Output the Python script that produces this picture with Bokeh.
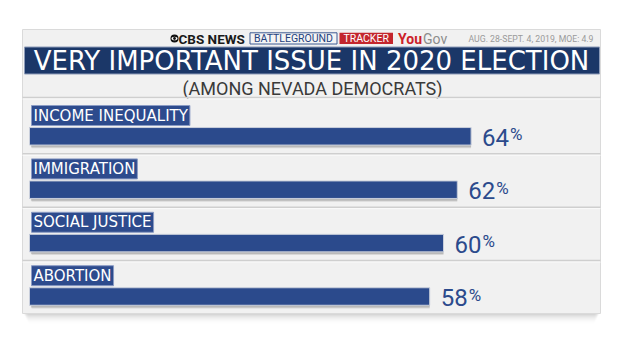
from bokeh.plotting import figure
from bokeh.models import Range1d
from bokeh.embed import file_html
from bokeh.resources import INLINE
from bokeh.core.properties import value

# ---- data ----
issues = ["INCOME INEQUALITY", "IMMIGRATION", "SOCIAL JUSTICE", "ABORTION"]
pcts = [64, 62, 60, 58]
title = "VERY IMPORTANT ISSUE IN 2020 ELECTION"
subtitle = "(AMONG NEVADA DEMOCRATS)"
source_note = "AUG. 28-SEPT. 4, 2019, MOE: 4.9"
brand = "CBS NEWS"
tag1 = "BATTLEGROUND"
tag2 = "TRACKER"

# ---- layout ----
W, H = 620, 349
PX_PER_PCT = 6.9
BAR_X0 = 29
NAVY = "#2b4a8c"

p = figure(width=W, height=H, output_backend="svg", toolbar_location=None,
           x_range=Range1d(-BAR_X0 / PX_PER_PCT, (W - BAR_X0) / PX_PER_PCT),
           y_range=Range1d(H, 0), min_border=0,
           x_axis_location=None, y_axis_location=None,
           background_fill_color="white", border_fill_color="white",
           outline_line_color=None)
p.grid.visible = False
p.extra_x_ranges = {"px": Range1d(0, W)}
PX = dict(x_range_name="px")

# panel shadow
for i, a in enumerate([0.06, 0.045, 0.03, 0.018, 0.008]):
    p.quad(left=24 + i, right=598 - i, top=313, bottom=315 + 2 * i,
           fill_color="black", fill_alpha=a, line_color=None, **PX)
# panel
p.quad(left=22, right=600, top=29, bottom=313, fill_color="#f1f1f1",
       line_color="#dadada", line_width=1, **PX)

# header
p.scatter(x=[174], y=[38], size=8, marker="circle", fill_color="#111111",
          line_color=None, **PX)
p.ellipse(x=[174], y=[38], width=6, height=3.6, fill_color="white",
          line_color=None, **PX)
p.scatter(x=[174], y=[38], size=2.8, marker="circle", fill_color="#111111",
          line_color=None, **PX)
p.text(x=[178], y=[38.5], text=[brand], text_font=value("Roboto"),
       text_font_style="bold", text_font_size="13.5px", text_color="#1a1a1a",
       text_baseline="middle", text_align="left", **PX)
p.quad(left=249.5, right=336.5, top=32.3, bottom=43.5, fill_color="#f4f4f4",
       line_color="#3d5a92", line_width=1, **PX)
p.text(x=[293], y=[38.3], text=[tag1], text_font=value("Roboto"),
       text_font_size="10.5px", text_color="#24427f", text_baseline="middle",
       text_align="center", **PX)
p.quad(left=339, right=392.5, top=32.3, bottom=43.5, fill_color="#c3262d",
       line_color=None, **PX)
p.text(x=[365.7], y=[38.3], text=[tag2], text_font=value("Roboto"),
       text_font_size="10.5px", text_color="white", text_baseline="middle",
       text_align="center", **PX)
p.text(x=[397.5], y=[38.5], text=["You"], text_font=value("Roboto"),
       text_font_style="bold", text_font_size="14px", text_color="#cc2129",
       text_baseline="middle", text_align="left", **PX)
p.text(x=[422.5], y=[38.5], text=["Gov"], text_font=value("Roboto"),
       text_font_size="14px", text_color="#8c8c8c",
       text_baseline="middle", text_align="left", **PX)
p.text(x=[593], y=[38.5], text=[source_note],
       text_font=value("Roboto"), text_font_size="8.7px",
       text_color="#9a9a9a", text_baseline="middle", text_align="right", **PX)

# title banner
p.quad(left=24, right=599, top=46.5, bottom=73.5, fill_color="#1b3768",
       line_color="#8d9bb8", line_width=1, **PX)
p.text(x=[311], y=[60.5], text=[title], text_font=value("DejaVu Sans"),
       text_font_size="26px", text_color="white", text_baseline="middle",
       text_align="center", **PX)
p.text(x=[312], y=[87.5], text=[subtitle], text_font=value("Roboto"),
       text_font_size="18px", text_color="#3a3a3a", text_baseline="middle",
       text_align="center", **PX)

# separators
ROW0, PITCH = 115.0, 53.4
sep_y = [97.0] + [153.3 + PITCH * i for i in range(len(issues) - 1)]
p.segment(x0=[22] * len(sep_y), x1=[600] * len(sep_y), y0=sep_y, y1=sep_y,
          line_color="#cfcfcf", line_width=1.5, **PX)
p.segment(x0=[22] * len(sep_y), x1=[600] * len(sep_y),
          y0=[y + 1.5 for y in sep_y], y1=[y + 1.5 for y in sep_y],
          line_color="#fafafa", line_width=1, **PX)

label_y = [ROW0 + PITCH * i for i in range(len(issues))]
bar_y = [y + 20.8 for y in label_y]

# bar shadows
p.hbar(y=[y + 3.5 for y in bar_y], left=0.3, right=pcts, height=17,
       fill_color="black", fill_alpha=0.10, line_color=None)
p.hbar(y=[y + 2.5 for y in bar_y], left=0.2, right=pcts, height=17,
       fill_color="black", fill_alpha=0.14, line_color=None)
# bars
p.hbar(y=bar_y, left=0, right=pcts, height=17.5, fill_color=NAVY,
       line_color="#c9cfdc", line_width=1)

# category labels
p.text(x=[31] * len(issues), y=label_y, text=issues,
       text_font=value("DejaVu Sans"), text_font_size="15px",
       text_color="white", text_baseline="middle", text_align="left",
       background_fill_color="#2d4b8d", border_line_color="#8a9bc4",
       border_line_width=1, padding=(2, 1), **PX)

# value labels
p.text(x=pcts, y=[y + 1 for y in bar_y], x_offset=11,
       text=[str(v) for v in pcts], text_font=value("Roboto"),
       text_font_size="24px", text_color=NAVY, text_baseline="middle",
       text_align="left")
p.text(x=pcts, y=[y - 2 for y in bar_y], x_offset=39, text=["%"] * len(pcts),
       text_font=value("Roboto"), text_font_size="17px", text_color=NAVY,
       text_baseline="middle", text_align="left")

open("out.html", "w").write(file_html(p, INLINE))
